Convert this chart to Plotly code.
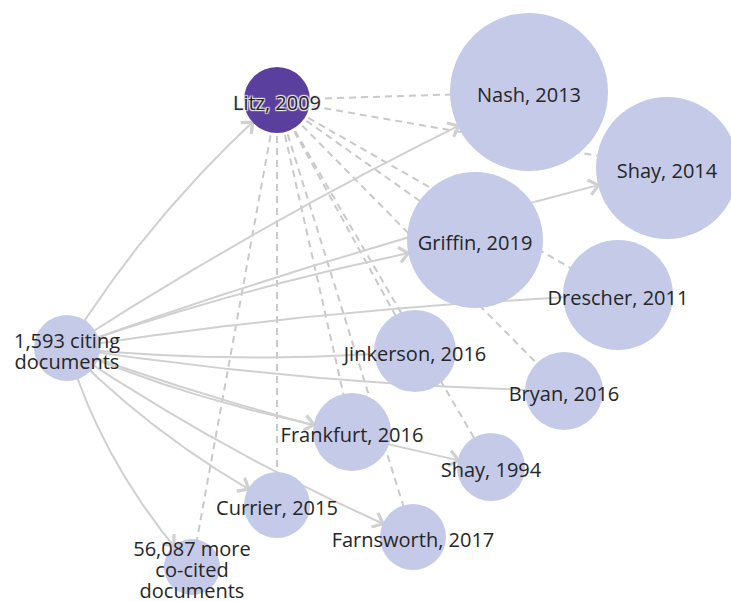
import numpy as np
import plotly.graph_objects as go

# ---------------- data ----------------
node_labels = ["1,593 citing<br>documents", "Litz, 2009", "Nash, 2013", "Shay, 2014",
               "Griffin, 2019", "Drescher, 2011", "Jinkerson, 2016", "Bryan, 2016",
               "Frankfurt, 2016", "Shay, 1994", "Currier, 2015", "Farnsworth, 2017",
               "56,087 more<br>co-cited<br>documents"]
node_x = [67, 277, 529, 667, 475, 618, 415, 564, 352, 491, 277, 413, 192]
node_y = [348, 100, 92, 168, 240, 295, 351, 391, 432, 467, 505, 537, 567]
node_r = [33, 33, 79, 71, 68, 55, 41, 39, 39, 34, 33, 33, 28]

citing_source = "1,593 citing<br>documents"
citing_targets = ["Litz, 2009", "Nash, 2013", "Shay, 2014", "Griffin, 2019", "Drescher, 2011",
                  "Jinkerson, 2016", "Bryan, 2016", "Frankfurt, 2016", "Shay, 1994",
                  "Currier, 2015", "Farnsworth, 2017", "56,087 more<br>co-cited<br>documents"]
focus_source = "Litz, 2009"
cocited_targets = ["Nash, 2013", "Shay, 2014", "Griffin, 2019", "Drescher, 2011",
                   "Jinkerson, 2016", "Bryan, 2016", "Frankfurt, 2016", "Shay, 1994",
                   "Currier, 2015", "Farnsworth, 2017", "56,087 more<br>co-cited<br>documents"]
arrow_hidden_targets = ["Drescher, 2011", "Jinkerson, 2016", "Bryan, 2016"]

# ---------------- styles ----------------
NODE_COLOR = "#c5cae9"
FOCUS_COLOR = "#5b3f9f"
EDGE_COLOR = "#d0d0d0"
DASH_COLOR = "#c9c9c9"
TEXT_COLOR = "#262626"
FONT = "Open Sans"
FSIZE = 20
LINE_GAP = 21
LABEL_DY = 5

idx = {n: i for i, n in enumerate(node_labels)}
W, H = 731, 601

fig = go.Figure()

# dashed co-citation lines
dx, dy = [], []
s = idx[focus_source]
for t in cocited_targets:
    j = idx[t]
    dx += [node_x[s], node_x[j], None]
    dy += [node_y[s], node_y[j], None]
fig.add_trace(go.Scatter(x=dx, y=dy, mode="lines",
                         line=dict(color=DASH_COLOR, width=2, dash="7px,5px"),
                         hoverinfo="skip"))

# curved citing edges
ex, ey, hx, hy = [], [], [], []
s = idx[citing_source]
P0 = np.array([node_x[s], node_y[s]], float)
tt = np.linspace(0, 1, 400)
for t in citing_targets:
    j = idx[t]
    P2 = np.array([node_x[j], node_y[j]], float)
    d = P2 - P0
    L = np.hypot(*d)
    u = d / L
    n = np.array([u[1], -u[0]])
    sign = 1.0 if d[1] < 0 else -1.0
    bulge = 8 + 9 * abs(u[1]) ** 3
    C = (P0 + P2) / 2 + sign * n * 2 * bulge
    pts = ((1 - tt)[:, None] ** 2) * P0 + (2 * (1 - tt) * tt)[:, None] * C + (tt ** 2)[:, None] * P2
    dist = np.hypot(pts[:, 0] - P2[0], pts[:, 1] - P2[1])
    k = np.argmax(dist <= node_r[j])
    seg = pts[:k + 1]
    ex += list(seg[:, 0]) + [None]
    ey += list(seg[:, 1]) + [None]
    if t not in arrow_hidden_targets:
        tip = seg[-1]
        dirv = seg[-1] - seg[-8]
        dirv /= np.hypot(*dirv)
        for ang in (0.7, -0.7):
            c, sn = np.cos(ang), np.sin(ang)
            rv = np.array([c * dirv[0] - sn * dirv[1], sn * dirv[0] + c * dirv[1]])
            a = tip - 12 * rv
            hx += [a[0], tip[0], None]
            hy += [a[1], tip[1], None]
fig.add_trace(go.Scatter(x=ex, y=ey, mode="lines",
                         line=dict(color=EDGE_COLOR, width=2), hoverinfo="skip"))
fig.add_trace(go.Scatter(x=hx, y=hy, mode="lines",
                         line=dict(color=EDGE_COLOR, width=3.2), hoverinfo="skip"))

# nodes
colors = [FOCUS_COLOR if n == focus_source else NODE_COLOR for n in node_labels]
fig.add_trace(go.Scatter(x=node_x, y=node_y, mode="markers",
                         marker=dict(size=[2 * r for r in node_r], color=colors,
                                     line=dict(width=0), opacity=1),
                         hoverinfo="skip", cliponaxis=True))

# labels (one text item per line)
lx, ly, lt = [], [], []
fx, fy, ft = [], [], []
for i, lab in enumerate(node_labels):
    lines = lab.split("<br>")
    m = len(lines)
    for k, line in enumerate(lines):
        yy = node_y[i] + LABEL_DY + (k - (m - 1) / 2) * LINE_GAP
        if lab == focus_source:
            fx.append(node_x[i]); fy.append(yy); ft.append(line)
        else:
            lx.append(node_x[i]); ly.append(yy); lt.append(line)
fig.add_trace(go.Scatter(x=lx, y=ly, text=lt, mode="text", textposition="middle center",
                         textfont=dict(family=FONT, size=FSIZE, color=TEXT_COLOR),
                         hoverinfo="skip", cliponaxis=False))
fig.add_trace(go.Scatter(x=fx, y=fy, text=ft, mode="text", textposition="middle center",
                         textfont=dict(family=FONT, size=FSIZE, color=TEXT_COLOR,
                                       shadow="1px 1px 1px #eeeeee, -1px -1px 1px #eeeeee, "
                                              "1px -1px 1px #eeeeee, -1px 1px 1px #eeeeee"),
                         hoverinfo="skip", cliponaxis=False))

fig.update_layout(width=W, height=H, margin=dict(l=0, r=0, t=0, b=0),
                  paper_bgcolor="white", plot_bgcolor="white", showlegend=False,
                  hovermode=False,
                  xaxis=dict(range=[0, W], visible=False, fixedrange=True),
                  yaxis=dict(range=[H, 0], visible=False, fixedrange=True))

fig.write_html("out.html", config={"displayModeBar": False},
               post_script="document.body.style.margin='0';document.body.style.overflow='hidden';")
